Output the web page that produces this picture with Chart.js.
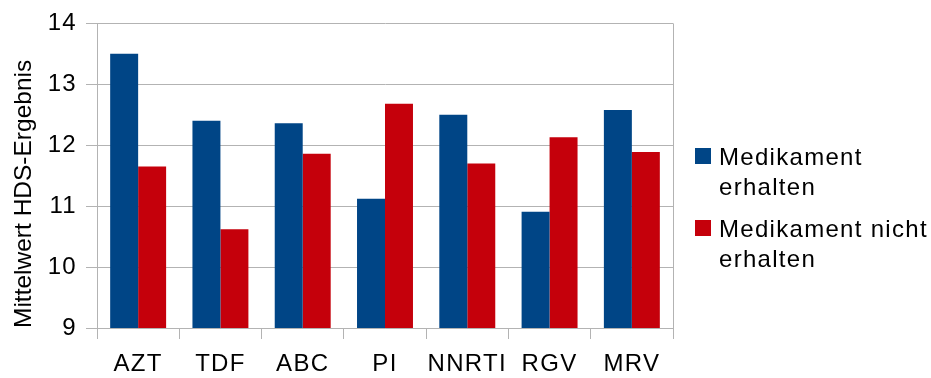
<!DOCTYPE html>
<html>
<head>
<meta charset="utf-8">
<script src="https://cdn.jsdelivr.net/npm/chart.js@4/dist/chart.umd.min.js"></script>
<style>
  html, body { margin: 0; padding: 0; background: #fff; }
  #wrap { width: 931px; height: 378px; }
</style>
</head>
<body>
<div id="wrap"><canvas id="c" width="931" height="378"></canvas></div>
<script>
// Drug classes on the x axis
const categories = ['AZT', 'TDF', 'ABC', 'PI', 'NNRTI', 'RGV', 'MRV'];
// Mean HDS score per class
const received = [13.50, 12.40, 12.36, 11.12, 12.50, 10.91, 12.58];
const notReceived = [11.65, 10.62, 11.86, 12.68, 11.70, 12.13, 11.89];
// Legend labels (wrapped onto two lines)
const seriesLabels = [['Medikament', 'erhalten'], ['Medikament nicht', 'erhalten']];
const seriesColors = ['#004586', '#c5000b'];
const yTitle = 'Mittelwert HDS-Ergebnis';
const yMin = 9, yMax = 14, yStep = 1;

const FONT = 'Liberation Sans, Arial, sans-serif';
const GRID = '#b3b3b3';
const SPACING = '1.3px';

// Slightly spaced lettering for the tick labels
const textSpacing = {
  id: 'textSpacing',
  beforeDraw(chart) { chart.ctx.letterSpacing = SPACING; }
};

// Axis title, side legend and the right frame line
const sideLegend = {
  id: 'sideLegend',
  afterDraw(chart) {
    const ctx = chart.ctx;
    const area = chart.chartArea;
    ctx.save();
    ctx.strokeStyle = GRID;
    ctx.lineWidth = 1;
    ctx.beginPath();
    ctx.moveTo(Math.round(area.right) + 0.5, area.top);
    ctx.lineTo(Math.round(area.right) + 0.5, area.bottom);
    ctx.stroke();

    // vertical y-axis title, starting at the bottom of the plot
    ctx.save();
    ctx.letterSpacing = '0px';
    ctx.font = '24.5px ' + FONT;
    ctx.fillStyle = '#000';
    ctx.textAlign = 'left';
    ctx.textBaseline = 'alphabetic';
    ctx.translate(30.5, area.bottom);
    ctx.rotate(-Math.PI / 2);
    ctx.fillText(yTitle, 0, 0);
    ctx.restore();

    ctx.letterSpacing = SPACING;
    ctx.font = '24px ' + FONT;
    ctx.textAlign = 'left';
    ctx.textBaseline = 'alphabetic';
    const boxX = area.right + 22;
    const textX = area.right + 46;
    let baseline = 165;
    const lineH = 30;
    chart.data.datasets.forEach((ds) => {
      ctx.fillStyle = ds.backgroundColor;
      ctx.fillRect(boxX, baseline - 17, 16, 16);
      ctx.fillStyle = '#000';
      const lines = Array.isArray(ds.label) ? ds.label : [ds.label];
      lines.forEach((ln, i) => ctx.fillText(ln, textX, baseline + i * lineH));
      baseline += 72;
    });
    ctx.restore();
  }
};

new Chart(document.getElementById('c'), {
  type: 'bar',
  data: {
    labels: categories,
    datasets: [
      { label: seriesLabels[0], data: received, backgroundColor: seriesColors[0] },
      { label: seriesLabels[1], data: notReceived, backgroundColor: seriesColors[1] }
    ]
  },
  options: {
    responsive: false,
    animation: false,
    devicePixelRatio: 1,
    layout: { padding: { top: 17, right: 258, bottom: 0, left: 0 } },
    datasets: { bar: { barPercentage: 1.0, categoryPercentage: 0.68, borderWidth: 0 } },
    plugins: {
      legend: { display: false },
      tooltip: { enabled: false }
    },
    scales: {
      x: {
        offset: true,
        grid: { drawOnChartArea: false, color: GRID, tickLength: 11, offset: true },
        border: { color: GRID },
        ticks: { color: '#000', font: { family: FONT, size: 24 }, padding: 11, maxRotation: 0 },
        afterFit(scale) { scale.height = 50; }
      },
      y: {
        min: yMin,
        max: yMax,
        grid: { color: GRID, tickLength: 11 },
        border: { color: GRID },
        ticks: { stepSize: yStep, color: '#000', font: { family: FONT, size: 24 }, padding: 9 },
        title: { display: false, text: yTitle },
        afterFit(scale) { scale.width = 97; }
      }
    }
  },
  plugins: [textSpacing, sideLegend]
});
</script>
</body>
</html>
